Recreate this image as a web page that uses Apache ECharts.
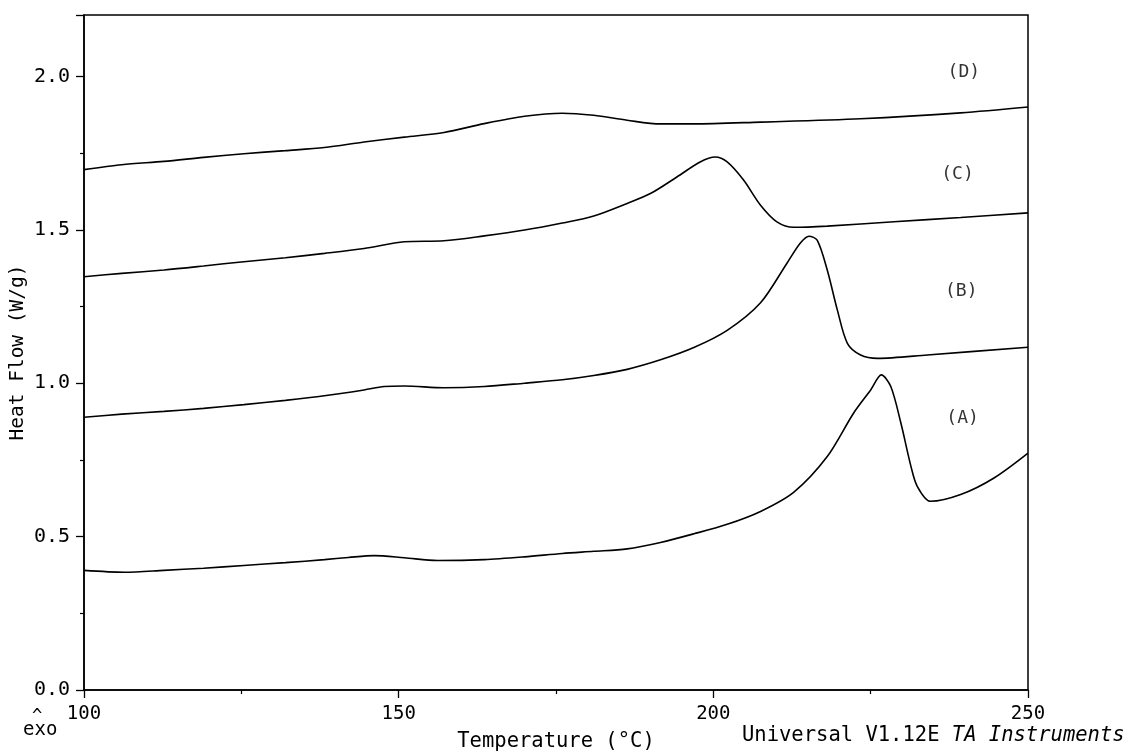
<!DOCTYPE html>
<html>
<head>
<meta charset="utf-8">
<script src="https://cdn.jsdelivr.net/npm/echarts@6/dist/echarts.min.js"></script>
<style>
html,body{margin:0;padding:0;background:#fff;}
#chart{width:1135px;height:752px;}
</style>
</head>
<body>
<div id="chart"></div>
<script>
// Temperature (°C) and heat flow (W/g)
const tempA = [100,106.4,112.7,119,125.4,132,138.2,142,146.1,150.9,156.2,163.6,170,176,181,186.3,191.6,196.9,202.2,207.5,212.8,218.1,222.3,225,226.7,228.2,229.8,231.4,232.4,234.5,239.3,244.6,250];
const heatA = [0.390,0.384,0.390,0.397,0.406,0.415,0.425,0.432,0.438,0.431,0.422,0.425,0.434,0.445,0.452,0.460,0.481,0.509,0.540,0.582,0.645,0.761,0.903,0.978,1.027,0.989,0.870,0.729,0.664,0.615,0.637,0.691,0.772];

const tempB = [100,106,112.7,119,125.4,132,138.2,144.5,147.7,150.9,157.2,163.6,170,176,181,186.3,191.6,196.9,202.2,207.5,211.7,213.8,215.2,216.5,218.1,219.7,221.3,223.4,226.1,234,250];
const heatB = [0.889,0.899,0.908,0.918,0.930,0.944,0.959,0.978,0.989,0.991,0.985,0.989,1.000,1.011,1.025,1.045,1.076,1.116,1.172,1.262,1.391,1.456,1.479,1.466,1.369,1.239,1.130,1.092,1.081,1.092,1.117];

const tempC = [100,106,112.7,119,125.4,132,138.2,144.5,150.9,157.2,163.6,170,176,181,186.3,190,194.2,197.9,200.3,202.2,204.8,207.5,210.1,212.8,218.1,228.7,239.3,250];
const heatC = [1.347,1.358,1.369,1.382,1.396,1.409,1.423,1.439,1.461,1.464,1.480,1.499,1.522,1.545,1.586,1.618,1.672,1.721,1.737,1.721,1.662,1.580,1.526,1.508,1.512,1.526,1.540,1.555];

const tempD = [100,106,112.7,119,125.4,132,138.2,144.5,150.9,157.2,163.6,170,176,181,186.3,191.6,196.8,207.5,223.4,239.3,250];
const heatD = [1.696,1.712,1.723,1.736,1.748,1.758,1.768,1.786,1.802,1.817,1.846,1.870,1.880,1.873,1.857,1.845,1.845,1.851,1.862,1.881,1.900];

const curveNames = ['(A)','(B)','(C)','(D)'];
const labelTemps = [239.6,239.4,238.8,239.8];
const labelHeats = [0.884,1.300,1.681,2.013];

const xTicks = ['100','150','200','250'];

const FONT = 'DejaVu Sans Mono';

function pairs(t, h){ return t.map((x,i)=>[x,h[i]]); }

const lineStyle = {color:'#000', width:1.6};
function curve(name, t, h){
  return {
    name, type:'line', data:pairs(t,h), showSymbol:false, symbol:'none',
    smooth:0.3, lineStyle, silent:true, animation:false
  };
}

const chart = echarts.init(document.getElementById('chart'));
chart.setOption({
  backgroundColor:'#fff',
  animation:false,
  grid:{left:84, right:107, top:15, bottom:62, containLabel:false, outerBoundsMode:'none',
    show:true, borderColor:'#000', borderWidth:1.5, backgroundColor:'transparent'},
  xAxis:{
    type:'value', min:100, max:250, interval:50,
    name:'Temperature (°C)', nameLocation:'middle', nameGap:41, nameMoveOverlap:false,
    nameTextStyle:{fontFamily:FONT, fontSize:20.5, color:'#000'},
    axisLine:{show:true, onZero:false, lineStyle:{color:'#000', width:1.5}},
    axisTick:{show:true, inside:false, length:8, lineStyle:{color:'#000', width:1.3}},
    minorTick:{show:true, splitNumber:2, length:4, lineStyle:{color:'#000', width:1.2}},
    splitLine:{show:false},
    axisLabel:{fontFamily:FONT, fontSize:19, color:'#000', margin:15,
      formatter:(v)=>{ const i=[100,150,200,250].indexOf(v); return i>=0?xTicks[i]:''; }}
  },
  yAxis:{
    type:'value', min:0, max:2.2, interval:0.5,
    name:'Heat Flow (W/g)', nameLocation:'middle', nameGap:56, nameMoveOverlap:false,
    nameTextStyle:{fontFamily:FONT, fontSize:19.5, color:'#000'},
    axisLine:{show:true, lineStyle:{color:'#000', width:1.5}},
    axisTick:{show:true, inside:false, length:8, lineStyle:{color:'#000', width:1.3}},
    minorTick:{show:true, splitNumber:2, length:4, lineStyle:{color:'#000', width:1.2}},
    splitLine:{show:false},
    axisLabel:{fontFamily:FONT, fontSize:20, color:'#000', margin:14, showMaxLabel:false,
      formatter:(v)=> (Math.abs(v-2.2)<1e-6 ? '' : v.toFixed(1))}
  },
  series:[
    curve('A', tempA, heatA),
    curve('B', tempB, heatB),
    curve('C', tempC, heatC),
    curve('D', tempD, heatD),
    {
      type:'scatter', symbolSize:0, silent:true,
      data: labelTemps.map((t,i)=>({value:[t,labelHeats[i]], name:curveNames[i]})),
      label:{show:true, position:'inside', formatter:(p)=>p.name, fontFamily:FONT, fontSize:18, color:'#000'}
    }
  ],
  graphic:[
    {type:'text', left:32, top:708, style:{text:'^', fontFamily:FONT, fontSize:17, fill:'#000'}},
    {type:'text', left:23, top:721, style:{text:'exo', fontFamily:FONT, fontSize:19, fill:'#000'}},
    {type:'text', left:742, top:725, style:{
      text:'{n|Universal V1.12E }{i|TA Instruments}',
      rich:{
        n:{fontFamily:FONT, fontSize:20.5, fill:'#000', color:'#000'},
        i:{fontFamily:FONT, fontSize:20.5, fontStyle:'italic', fill:'#000', color:'#000'}
      }
    }}
  ]
});
</script>
</body>
</html>
